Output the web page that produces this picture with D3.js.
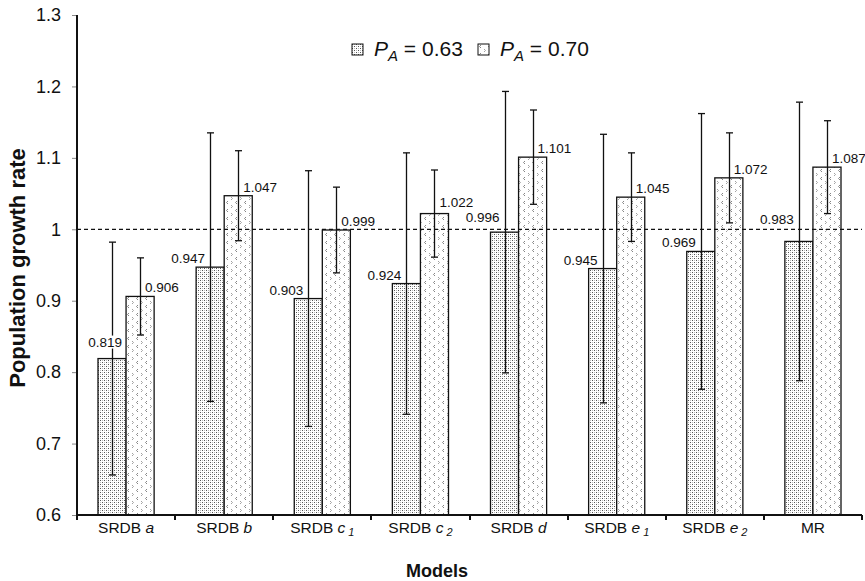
<!DOCTYPE html>
<html>
<head>
<meta charset="utf-8">
<script src="https://cdn.jsdelivr.net/npm/d3@7"></script>
<style>
  body { margin: 0; background: #fff; }
  svg { display: block; font-family: "Liberation Sans", Arial, sans-serif; }
</style>
</head>
<body>
<div id="chart"></div>
<script>
// chart values
const categories = ['SRDB a', 'SRDB b', 'SRDB c1', 'SRDB c2', 'SRDB d', 'SRDB e1', 'SRDB e2', 'MR'];
const seriesNames = ['0.63', '0.70'];
const growth063 = [0.819, 0.947, 0.903, 0.924, 0.996, 0.945, 0.969, 0.983];
const growth070 = [0.906, 1.047, 0.999, 1.022, 1.101, 1.045, 1.072, 1.087];
const err063 = [0.163, 0.188, 0.179, 0.183, 0.197, 0.188, 0.193, 0.195];
const err070 = [0.054, 0.063, 0.060, 0.061, 0.066, 0.062, 0.063, 0.065];
const yTicks = [0.6, 0.7, 0.8, 0.9, 1, 1.1, 1.2, 1.3];
const refLine = 1;

const W = 865, H = 581;
const svg = d3.select('#chart').append('svg')
  .attr('width', W)
  .attr('height', H);

// fill patterns
const defs = svg.append('defs');
const dots = defs.append('pattern')
  .attr('id', 'pat0')
  .attr('patternUnits', 'userSpaceOnUse')
  .attr('width', 4).attr('height', 4);
dots.append('rect').attr('width', 4).attr('height', 4).attr('fill', '#fff');
[[0, 0, '#555'], [2, 2, '#555'], [2, 0, '#bbb'], [0, 2, '#bbb']].forEach(function (p) {
  dots.append('rect').attr('x', p[0]).attr('y', p[1]).attr('width', 1).attr('height', 1).attr('fill', p[2]);
});

const chev = defs.append('pattern')
  .attr('id', 'pat1')
  .attr('patternUnits', 'userSpaceOnUse')
  .attr('width', 9).attr('height', 8);
chev.append('rect').attr('width', 9).attr('height', 8).attr('fill', '#fff');
chev.append('path').attr('d', 'M3,1 L1.5,2.5 L3,4').attr('fill', 'none').attr('stroke', '#777').attr('stroke-width', 0.9);
chev.append('path').attr('d', 'M6,5 L7.5,6.5 L6,8').attr('fill', 'none').attr('stroke', '#999').attr('stroke-width', 0.9);

const plotL = 77, plotR = 862, plotT = 15, plotB = 515;

const y = d3.scaleLinear().domain([0.6, 1.3]).range([plotB, plotT]);
const x = d3.scaleBand().domain(categories).range([plotL, plotR])
  .paddingInner(0.428).paddingOuter(0.214);
const xs = d3.scaleBand().domain([0, 1]).range([0, x.bandwidth()]);

const series = [
  { vals: growth063, errs: err063 },
  { vals: growth070, errs: err070 }
];

// y axis
const yAxis = svg.append('g')
  .attr('transform', 'translate(' + plotL + ',0)')
  .call(d3.axisLeft(y).tickValues(yTicks).tickSize(5).tickFormat(d3.format('')));
yAxis.select('.domain').remove();
yAxis.selectAll('.tick line').attr('stroke', '#888');
yAxis.selectAll('.tick text')
  .attr('x', -16)
  .attr('font-size', 18)
  .attr('font-family', '"Liberation Sans", Arial, sans-serif')
  .attr('fill', '#111');

// bars
series.forEach(function (s, si) {
  svg.append('g').selectAll('rect')
    .data(categories)
    .join('rect')
    .attr('x', function (c) { return x(c) + xs(si); })
    .attr('y', function (c, i) { return y(s.vals[i]); })
    .attr('width', xs.bandwidth())
    .attr('height', function (c, i) { return y(0.6) - y(s.vals[i]); })
    .attr('fill', 'url(#pat' + si + ')')
    .attr('stroke', '#111')
    .attr('stroke-width', 1.3);
});

// reference line
svg.append('line')
  .attr('x1', plotL).attr('x2', plotR)
  .attr('y1', y(refLine)).attr('y2', y(refLine))
  .attr('stroke', '#111')
  .attr('stroke-width', 1.2)
  .attr('stroke-dasharray', '4,3');

// error bars
series.forEach(function (s, si) {
  const g = svg.append('g').attr('stroke', '#111').attr('stroke-width', 1.3);
  categories.forEach(function (c, i) {
    const cx = Math.round(x(c) + xs(si) + xs.bandwidth() / 2) + 0.5;
    const hi = y(s.vals[i] + s.errs[i]);
    const lo = y(s.vals[i] - s.errs[i]);
    g.append('line').attr('x1', cx).attr('x2', cx).attr('y1', hi).attr('y2', lo);
    g.append('line').attr('x1', cx - 3.5).attr('x2', cx + 3.5).attr('y1', hi).attr('y2', hi);
    g.append('line').attr('x1', cx - 3.5).attr('x2', cx + 3.5).attr('y1', lo).attr('y2', lo);
  });
});

// value labels (a few were nudged by hand in the original)
const nudge = { '0-0': [15, -8], '0-4': [0, -6], '0-7': [0, -13], '1-3': [0, -3] };
series.forEach(function (s, si) {
  categories.forEach(function (c, i) {
    const cx = x(c) + xs(si) + xs.bandwidth() / 2;
    const n = nudge[si + '-' + i] || [0, 0];
    const lx = (si === 0 ? cx - 5 : cx + 5) + n[0];
    const ly = y(s.vals[i]) - 4 + n[1];
    const t = svg.append('text')
      .attr('x', lx).attr('y', ly)
      .attr('text-anchor', si === 0 ? 'end' : 'start')
      .attr('font-size', 13.5)
      .attr('fill', '#111')
      .text(d3.format('.3f')(s.vals[i]));
    const bb = t.node().getBBox();
    svg.insert('rect', function () { return t.node(); })
      .attr('x', bb.x - 1).attr('y', bb.y + 1)
      .attr('width', bb.width + 2).attr('height', bb.height - 2)
      .attr('fill', '#fff');
  });
});

// axis lines
svg.append('line')
  .attr('x1', plotL).attr('x2', plotR)
  .attr('y1', plotB).attr('y2', plotB)
  .attr('stroke', '#111').attr('stroke-width', 2);
svg.append('line')
  .attr('x1', plotL).attr('x2', plotL)
  .attr('y1', plotT).attr('y2', plotB)
  .attr('stroke', '#111').attr('stroke-width', 2);
const bounds = categories.map(function (c) { return x(c) - x.step() * x.paddingOuter(); }).concat([plotR]);
svg.append('g').selectAll('line')
  .data(bounds)
  .join('line')
  .attr('x1', function (d) { return Math.round(d); })
  .attr('x2', function (d) { return Math.round(d); })
  .attr('y1', plotB).attr('y2', plotB + 5)
  .attr('stroke', '#111').attr('stroke-width', 2);

const xl = svg.append('g').selectAll('text')
  .data(categories)
  .join('text')
  .attr('x', function (c) { return x(c) + x.bandwidth() / 2; })
  .attr('y', 533)
  .attr('text-anchor', 'middle')
  .attr('font-size', 15.5)
  .attr('fill', '#111');
xl.each(function (c) {
  const m = c.match(/^(\S+) ([a-z])(\d?)$/);
  const t = d3.select(this);
  if (!m) { t.text(c); return; }
  t.append('tspan').text(m[1] + ' ');
  t.append('tspan').attr('font-style', 'italic').text(m[2]);
  if (m[3]) {
    t.append('tspan').attr('font-style', 'italic').attr('font-size', 11)
      .attr('dx', 3).attr('dy', 3).text(m[3]);
  }
});

// axis titles
svg.append('text')
  .attr('x', 437).attr('y', 577)
  .attr('text-anchor', 'middle')
  .attr('font-size', 18).attr('font-weight', 'bold')
  .attr('fill', '#111')
  .text('Models');
svg.append('text')
  .attr('transform', 'translate(25,268) rotate(-90)')
  .attr('text-anchor', 'middle')
  .attr('font-size', 22).attr('font-weight', 'bold')
  .attr('fill', '#111')
  .text('Population growth rate');

// legend
const legendX = [352, 478];
seriesNames.forEach(function (nm, si) {
  const g = svg.append('g').attr('transform', 'translate(' + legendX[si] + ',44)');
  g.append('rect').attr('width', 11).attr('height', 11)
    .attr('fill', 'url(#pat' + si + ')').attr('stroke', '#111').attr('stroke-width', 1);
  const t = g.append('text').attr('x', 22).attr('y', 12)
    .attr('font-size', 21).attr('fill', '#111');
  t.append('tspan').attr('font-style', 'italic').text('P');
  t.append('tspan').attr('font-style', 'italic').attr('font-size', 15).attr('dy', 5).text('A');
  t.append('tspan').attr('dy', -5).text(' = ' + nm);
});
</script>
</body>
</html>
